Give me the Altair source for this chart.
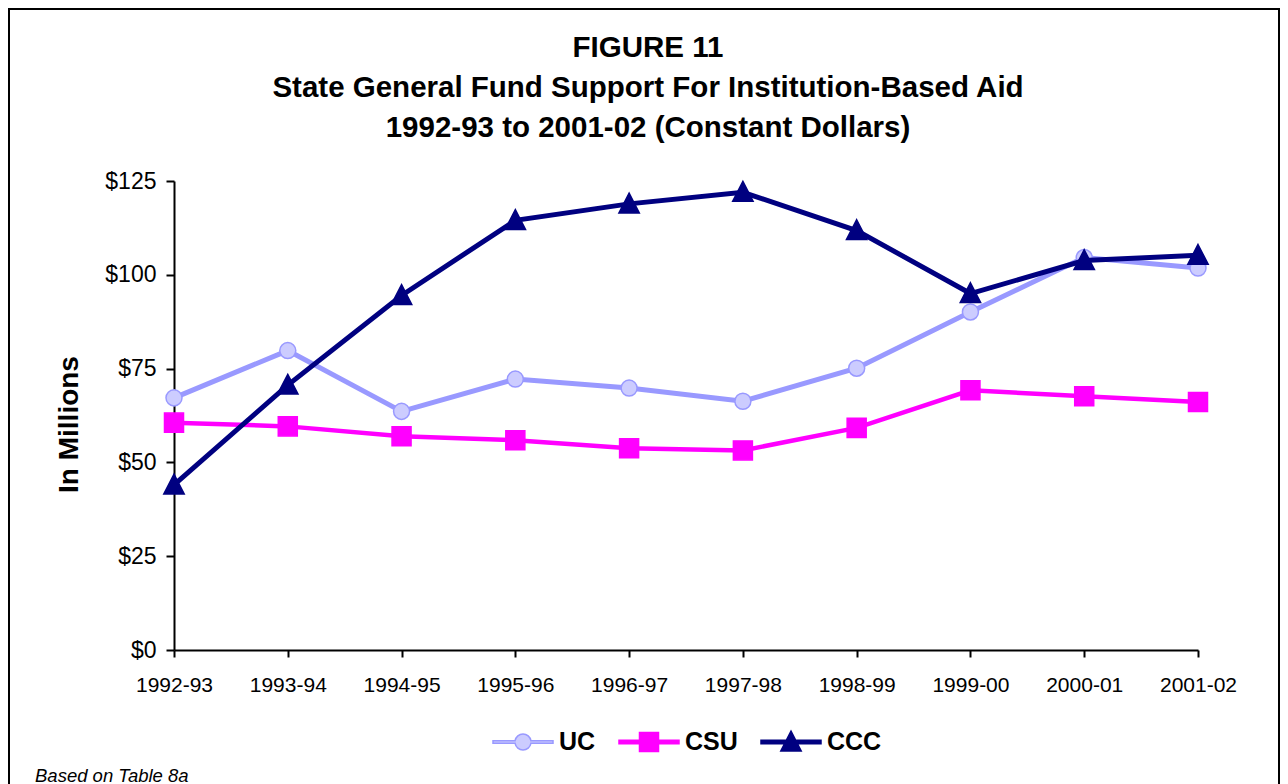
import altair as alt
import pandas as pd

# ---- data ----
years = ["1992-93", "1993-94", "1994-95", "1995-96", "1996-97",
         "1997-98", "1998-99", "1999-00", "2000-01", "2001-02"]
uc = [67.2, 79.8, 63.6, 72.2, 69.8, 66.3, 75.1, 90.1, 104.6, 101.8]
csu = [60.6, 59.6, 57.0, 55.9, 53.8, 53.2, 59.2, 69.2, 67.6, 66.1]
ccc = [44.0, 70.6, 94.5, 114.5, 118.9, 122.0, 111.8, 95.0, 103.8, 105.2]
series_names = ["UC", "CSU", "CCC"]
y_ticks = [0, 25, 50, 75, 100, 125]
title_lines = ["FIGURE 11",
               "State General Fund Support For Institution-Based Aid",
               "1992-93 to 2001-02 (Constant Dollars)"]
footer = ["Based on Table 8a"]

# ---- styles ----
line_colors = ["#9999FF", "#FF00FF", "#000080"]
marker_fills = ["#CCCCFF", "#FF00FF", "#000080"]
marker_strokes = ["#9999FF", "#FF00FF", "#000080"]
line_widths = [5, 4.5, 5]
circle = "M0.267,0A0.267,0.267,0,1,1,-0.267,0A0.267,0.267,0,1,1,0.267,0Z"
square = "M-0.317,-0.317H0.317V0.317H-0.317Z"
triangle = "M0,-0.36L0.34,0.3L-0.34,0.3Z"
marker_paths = [circle, square, triangle]
# legend symbols: line segment + marker in one outline
leg_uc = ("M-1,-0.045L-0.2632,-0.045A0.267,0.267,0,0,1,0.2632,-0.045"
          "L1,-0.045L1,0.045L0.2632,0.045A0.267,0.267,0,0,1,-0.2632,0.045"
          "L-1,0.045Z")
leg_bar = "M-1,-0.058H1V0.058H-1Z"
leg_paths = [leg_uc, leg_bar + square, leg_bar + triangle]
FONT = "Liberation Sans"

rows = []
for name, vals in zip(series_names, [uc, csu, ccc]):
    for yr, v in zip(years, vals):
        rows.append({"year": yr, "value": v, "series": name})
df = pd.DataFrame(rows)

x_enc = alt.X("year:N", sort=years,
              scale=alt.Scale(type="point", domain=years, padding=0),
              axis=alt.Axis(title="", labelAngle=0, labelFont=FONT, labelFontSize=21,
                            labelColor="black", labelPadding=17, tickSize=7,
                            tickColor="black", tickWidth=2, domainColor="black",
                            domainWidth=2, grid=False))
y_enc = alt.Y("value:Q", scale=alt.Scale(domain=[0, 125], nice=False),
              axis=alt.Axis(values=y_ticks, labelExpr="'$' + datum.value",
                            labelFont=FONT, labelFontSize=23, labelColor="black",
                            labelPadding=10, tickSize=8, tickColor="black",
                            tickWidth=2, domainColor="black", domainWidth=2,
                            grid=False, title="In Millions", titleFont=FONT,
                            titleFontSize=28, titleFontWeight="bold",
                            titleColor="black", titleX=-105, titleY=243,
                            titleBaseline="middle", titleAlign="center",
                            titleAngle=270))

leg = alt.Legend(orient="none", legendX=318, legendY=530, direction="horizontal",
                 symbolSize=3600, symbolStrokeWidth=1.5, labelFont=FONT,
                 labelFontSize=25, labelFontWeight="bold", labelColor="black",
                 labelOffset=5, columnPadding=20, padding=0, title=None,
                 symbolOpacity=1)

layers = []
for i, name in enumerate(series_names):
    base = alt.Chart(df).transform_filter(alt.datum.series == name)
    layers.append(base.mark_line(strokeWidth=line_widths[i]).encode(
        x=x_enc, y=y_enc,
        color=alt.Color("series:N", scale=alt.Scale(domain=series_names, range=line_colors),
                        legend=None)))
    layers.append(base.mark_point(filled=True, size=3600, strokeWidth=1.5, opacity=1).encode(
        x=x_enc, y=y_enc,
        shape=alt.Shape("series:N", scale=alt.Scale(domain=series_names, range=marker_paths),
                        legend=None),
        fill=alt.Fill("series:N", scale=alt.Scale(domain=series_names, range=marker_fills),
                      legend=None),
        stroke=alt.Stroke("series:N", scale=alt.Scale(domain=series_names, range=marker_strokes),
                          legend=None)))

# legend-only layer (no rows drawn; legend built from the explicit domains)
legend_layer = alt.Chart(df).transform_filter("datum.value < 0").mark_point(
    filled=True, size=3600, strokeWidth=1.5, opacity=1).encode(
    x=x_enc, y=y_enc,
    shape=alt.Shape("series:N", scale=alt.Scale(domain=series_names, range=leg_paths),
                    legend=leg),
    fill=alt.Fill("series:N", scale=alt.Scale(domain=series_names, range=marker_fills),
                  legend=leg),
    stroke=alt.Stroke("series:N", scale=alt.Scale(domain=series_names, range=marker_strokes),
                      legend=leg))

frame = alt.Chart(pd.DataFrame({"k": [0]})).mark_rect(
    fillOpacity=0, stroke="black", strokeWidth=2).encode(
    x=alt.value(-165), x2=alt.value(1105), y=alt.value(-172), y2=alt.value(620))

foot = alt.Chart(pd.DataFrame({"t": footer})).mark_text(
    align="left", baseline="alphabetic", font=FONT, fontSize=18.5,
    fontStyle="italic", color="black").encode(
    text="t:N", x=alt.value(-139), y=alt.value(601))

chart = alt.layer(frame, *layers, legend_layer, foot).resolve_scale(
    shape="independent", fill="independent", stroke="independent"
).properties(
    width=1024, height=469,
    padding={"left": 166, "top": 173, "right": 82, "bottom": 140},
    autosize=alt.AutoSizeParams(type="none"),
    title=alt.Title(text=title_lines, anchor="middle", frame="group", dx=-38,
                    font=FONT, fontSize=29.5, fontWeight="bold", color="black",
                    lineHeight=40, offset=-135),
).configure_view(stroke=None)

chart.save("out.html", embed_options={"renderer": "svg", "actions": False})
